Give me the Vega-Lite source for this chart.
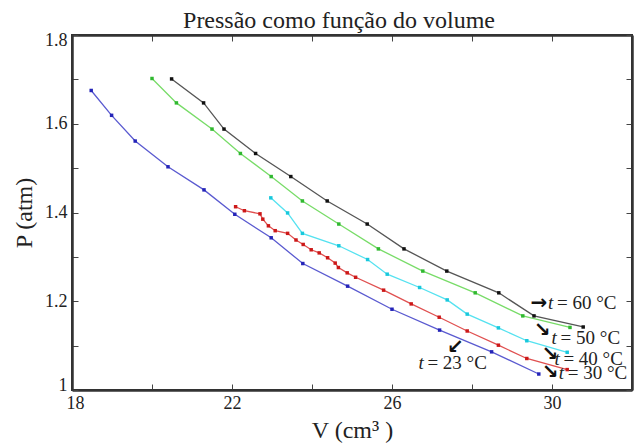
{
  "$schema": "https://vega.github.io/schema/vega-lite/v6.json",
  "width": 560,
  "height": 355,
  "autosize": {"type": "none"},
  "padding": {"left": 72, "top": 35, "right": 12, "bottom": 55},
  "background": "white",
  "title": {"text": "Pressão como função do volume", "font": "Liberation Serif", "fontSize": 24, "fontWeight": "normal", "color": "#222", "offset": 8, "dy": 10, "dx": -13},
  "config": {
    "view": {"stroke": "#333", "strokeWidth": 2},
    "axis": {
      "labelFont": "Liberation Serif", "labelFontSize": 18, "labelColor": "#222",
      "titleFont": "Liberation Serif", "titleFontSize": 24, "titleFontWeight": "normal", "titleColor": "#222",
      "tickSize": -6, "tickColor": "#444", "tickWidth": 1,
      "domainColor": "#333", "domainWidth": 2.5, "grid": false
    }
  },
  "datasets": {
    "pts": [
      {"s": "23", "V": 18.48, "P": 1.675}, {"s": "23", "V": 18.99, "P": 1.619}, {"s": "23", "V": 19.58, "P": 1.561},
      {"s": "23", "V": 20.40, "P": 1.503}, {"s": "23", "V": 21.30, "P": 1.451}, {"s": "23", "V": 22.07, "P": 1.396},
      {"s": "23", "V": 22.98, "P": 1.343}, {"s": "23", "V": 23.77, "P": 1.285}, {"s": "23", "V": 24.89, "P": 1.234},
      {"s": "23", "V": 26.00, "P": 1.182}, {"s": "23", "V": 27.19, "P": 1.135}, {"s": "23", "V": 28.49, "P": 1.086},
      {"s": "23", "V": 29.67, "P": 1.036},
      {"s": "60", "V": 20.49, "P": 1.701}, {"s": "60", "V": 21.29, "P": 1.647}, {"s": "60", "V": 21.80, "P": 1.588},
      {"s": "60", "V": 22.59, "P": 1.533}, {"s": "60", "V": 23.47, "P": 1.481}, {"s": "60", "V": 24.38, "P": 1.426},
      {"s": "60", "V": 25.38, "P": 1.374}, {"s": "60", "V": 26.30, "P": 1.318}, {"s": "60", "V": 27.37, "P": 1.268},
      {"s": "60", "V": 28.67, "P": 1.219}, {"s": "60", "V": 29.55, "P": 1.167}, {"s": "60", "V": 30.78, "P": 1.142},
      {"s": "50", "V": 20.00, "P": 1.702}, {"s": "50", "V": 20.61, "P": 1.647}, {"s": "50", "V": 21.50, "P": 1.588},
      {"s": "50", "V": 22.21, "P": 1.533}, {"s": "50", "V": 22.98, "P": 1.481}, {"s": "50", "V": 23.76, "P": 1.426},
      {"s": "50", "V": 24.67, "P": 1.374}, {"s": "50", "V": 25.66, "P": 1.318}, {"s": "50", "V": 26.77, "P": 1.268},
      {"s": "50", "V": 28.08, "P": 1.219}, {"s": "50", "V": 29.27, "P": 1.167}, {"s": "50", "V": 30.45, "P": 1.141},
      {"s": "40", "V": 22.97, "P": 1.433}, {"s": "40", "V": 23.39, "P": 1.399}, {"s": "40", "V": 23.76, "P": 1.353},
      {"s": "40", "V": 24.67, "P": 1.325}, {"s": "40", "V": 25.39, "P": 1.294}, {"s": "40", "V": 25.88, "P": 1.261},
      {"s": "40", "V": 26.69, "P": 1.231}, {"s": "40", "V": 27.38, "P": 1.203}, {"s": "40", "V": 27.88, "P": 1.171},
      {"s": "40", "V": 28.66, "P": 1.140}, {"s": "40", "V": 29.37, "P": 1.111}, {"s": "40", "V": 30.38, "P": 1.085},
      {"s": "30", "V": 22.09, "P": 1.413}, {"s": "30", "V": 22.31, "P": 1.404}, {"s": "30", "V": 22.70, "P": 1.397},
      {"s": "30", "V": 22.77, "P": 1.385}, {"s": "30", "V": 22.91, "P": 1.370}, {"s": "30", "V": 23.08, "P": 1.359},
      {"s": "30", "V": 23.39, "P": 1.353}, {"s": "30", "V": 23.60, "P": 1.338}, {"s": "30", "V": 23.78, "P": 1.328},
      {"s": "30", "V": 23.98, "P": 1.316}, {"s": "30", "V": 24.18, "P": 1.309}, {"s": "30", "V": 24.39, "P": 1.298},
      {"s": "30", "V": 24.58, "P": 1.286}, {"s": "30", "V": 24.66, "P": 1.276}, {"s": "30", "V": 24.88, "P": 1.264},
      {"s": "30", "V": 25.09, "P": 1.254}, {"s": "30", "V": 25.79, "P": 1.225}, {"s": "30", "V": 26.48, "P": 1.194},
      {"s": "30", "V": 27.18, "P": 1.164}, {"s": "30", "V": 27.88, "P": 1.133}, {"s": "30", "V": 28.66, "P": 1.101},
      {"s": "30", "V": 29.37, "P": 1.071}, {"s": "30", "V": 30.38, "P": 1.046}
    ],
    "labels": [
      {"s": "60", "V": 29.90, "P": 1.197, "rest": "= 60 °C", "arrow": "→", "aV": 29.67, "aP": 1.197},
      {"s": "50", "V": 29.99, "P": 1.117, "rest": "= 50 °C", "arrow": "↘", "aV": 29.76, "aP": 1.135},
      {"s": "40", "V": 30.06, "P": 1.070, "rest": "= 40 °C", "arrow": "↘", "aV": 29.95, "aP": 1.082},
      {"s": "30", "V": 30.17, "P": 1.038, "rest": "= 30 °C", "arrow": "↘", "aV": 29.96, "aP": 1.041},
      {"s": "23", "V": 26.66, "P": 1.060, "rest": "= 23 °C", "arrow": "↙", "aV": 27.58, "aP": 1.098}
    ]
  },
  "layer": [
    {
      "data": {"name": "pts"},
      "mark": {"type": "line", "strokeWidth": 1.3},
      "encoding": {
        "x": {"field": "V", "type": "quantitative", "scale": {"domain": [18, 32], "nice": false, "zero": false},
          "axis": {"orient": "bottom", "values": [18, 20, 22, 24, 26, 28, 30], "labelExpr": "datum.value % 4 == 2 ? datum.label : ''", "title": "V (cm³ )", "labelPadding": 10, "titlePadding": 6, "labelFlush": true, "labelFlushOffset": 6}},
        "y": {"field": "P", "type": "quantitative", "scale": {"domain": [1, 1.8], "nice": false, "zero": false},
          "axis": {"orient": "left", "values": [1, 1.1, 1.2, 1.3, 1.4, 1.5, 1.6, 1.7, 1.8], "format": ".1~f", "labelExpr": "round(datum.value * 10) % 2 == 1 ? '' : datum.label", "title": "P (atm)", "labelPadding": 11, "titlePadding": 8, "labelFlush": true, "labelFlushOffset": 4}},
        "color": {"field": "s", "type": "nominal", "legend": null,
          "scale": {"domain": ["23", "30", "40", "50", "60"], "range": ["#5a5ad0", "#e05050", "#55e2f0", "#78dc68", "#555555"]}},
        "detail": {"field": "s"}
      }
    },
    {
      "data": {"name": "pts"},
      "mark": {"type": "point", "shape": "square", "filled": true, "size": 12, "opacity": 1},
      "encoding": {
        "x": {"field": "V", "type": "quantitative", "scale": {"domain": [18, 32], "nice": false, "zero": false},
          "axis": {"orient": "top", "values": [18, 20, 22, 24, 26, 28, 30], "labels": false, "title": null}},
        "y": {"field": "P", "type": "quantitative", "scale": {"domain": [1, 1.8], "nice": false, "zero": false},
          "axis": {"orient": "right", "values": [1, 1.1, 1.2, 1.3, 1.4, 1.5, 1.6, 1.7, 1.8], "labels": false, "title": null}},
        "color": {"field": "s", "type": "nominal", "legend": null,
          "scale": {"domain": ["23", "30", "40", "50", "60"], "range": ["#2424b8", "#cc1818", "#18c8dc", "#30b830", "#111111"]}}
      }
    },
    {
      "data": {"name": "labels"},
      "mark": {"type": "text", "font": "Liberation Serif", "fontSize": 19, "fontStyle": "italic", "align": "left", "baseline": "middle", "color": "#222"},
      "encoding": {
        "x": {"field": "V", "type": "quantitative", "axis": null},
        "y": {"field": "P", "type": "quantitative", "axis": null},
        "text": {"value": "t"}
      }
    },
    {
      "data": {"name": "labels"},
      "mark": {"type": "text", "font": "Liberation Serif", "fontSize": 19, "align": "left", "baseline": "middle", "dx": 9, "color": "#222"},
      "encoding": {
        "x": {"field": "V", "type": "quantitative", "axis": null},
        "y": {"field": "P", "type": "quantitative", "axis": null},
        "text": {"field": "rest"}
      }
    },
    {
      "data": {"name": "labels"},
      "mark": {"type": "text", "font": "DejaVu Sans", "fontSize": 20, "fontWeight": "bold", "align": "center", "baseline": "middle", "color": "#111"},
      "encoding": {
        "x": {"field": "aV", "type": "quantitative", "axis": null},
        "y": {"field": "aP", "type": "quantitative", "axis": null},
        "text": {"field": "arrow"}
      }
    }
  ],
  "resolve": {"axis": {"x": "independent", "y": "independent"}, "scale": {"color": "independent"}}
}
